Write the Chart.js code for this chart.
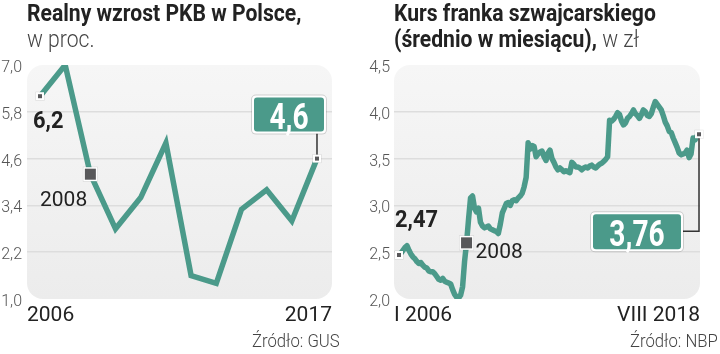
<!DOCTYPE html>
<html><head><meta charset="utf-8">
<script src="https://cdn.jsdelivr.net/npm/chart.js@4/dist/chart.umd.min.js"></script>
<style>
html,body{margin:0;padding:0;background:#fff;width:720px;height:354px;overflow:hidden;font-family:Roboto,"Liberation Sans",sans-serif;color:#222;}
.c{position:absolute;top:0;}
.ttl{position:absolute;top:0;white-space:nowrap;font-size:24px;line-height:26px;transform:scaleX(.88);transform-origin:0 0;}
.ttl b{font-weight:700;color:#222;}
.ttl .l{font-weight:300;color:#444;}
.src{position:absolute;top:329px;white-space:nowrap;font-size:19px;font-weight:300;color:#444;transform:scaleX(.88);transform-origin:100% 0;text-align:right;}
</style></head>
<body>
<canvas id="c1" class="c" width="360" height="354" style="left:0"></canvas>
<canvas id="c2" class="c" width="360" height="354" style="left:360px"></canvas>
<div class="ttl" style="left:27px"><b>Realny wzrost PKB w Polsce,</b><br><span class="l">w proc.</span></div>
<div class="ttl" style="left:394px"><b>Kurs franka szwajcarskiego</b><br><b>(średnio w miesiącu),</b> <span class="l">w zł</span></div>
<div class="src" style="right:380px">Źródło: GUS</div>
<div class="src" style="right:2px">Źródło: NBP</div>
<script>
// ---- data ----
const gdpYears = [2006,2007,2008,2009,2010,2011,2012,2013,2014,2015,2016,2017];
const gdpValues = [6.2,7.0,4.2,2.8,3.6,5.0,1.6,1.4,3.3,3.8,3.0,4.6];
const gdpYTicks = [1.0,2.2,3.4,4.6,5.8,7.0];
const gdpXLabels = ['2006','2017'];

const chfStart = {year:2006, month:1};
const chfValues = [
 2.47,2.49,2.52,2.55,2.57,2.52,2.48,2.45,2.43,2.40,2.38,2.39, // 2006
 2.36,2.34,2.33,2.30,2.29,2.29,2.27,2.24,2.21,2.20,2.22,2.19, // 2007
 2.18,2.17,2.16,2.10,2.05,2.02,2.01,2.04,2.13,2.40,2.60,2.85, // 2008
 3.08,3.10,2.97,2.93,2.97,2.82,2.78,2.76,2.77,2.78,2.75,2.74, // 2009
 2.73,2.72,2.70,2.80,2.92,2.97,3.02,3.03,3.00,3.05,3.06,3.05, // 2010
 3.08,3.10,3.13,3.20,3.30,3.67,3.60,3.64,3.63,3.52,3.55,3.57, // 2011
 3.58,3.52,3.48,3.56,3.59,3.50,3.46,3.41,3.38,3.40,3.38,3.36, // 2012
 3.37,3.36,3.35,3.46,3.44,3.41,3.41,3.40,3.38,3.40,3.41,3.40, // 2013
 3.42,3.43,3.41,3.40,3.42,3.44,3.45,3.47,3.49,3.52,3.91,3.90, // 2014
 3.92,3.95,3.99,3.97,3.90,3.86,3.88,3.93,3.95,3.98,4.02,3.98, // 2015
 3.96,3.93,3.97,4.02,4.00,3.96,3.95,3.98,4.05,4.11,4.08,4.05, // 2016
 4.02,3.96,3.89,3.85,3.79,3.78,3.72,3.67,3.62,3.56,3.54,3.55, // 2017
 3.56,3.59,3.51,3.55,3.72,3.70,3.74,3.76                      // 2018
];
const chfYTicks = [2.0,2.5,3.0,3.5,4.0,4.5];
const chfXLabels = ['I 2006','VIII 2018'];

// ---- styles ----
const TEAL = '#4b9a8a';
const FAM = 'Roboto, "Liberation Sans", sans-serif';

function txt(ctx, s, x, y, o) {
  ctx.save(); ctx.translate(x, y); ctx.scale(o.sx || 1, 1);
  ctx.font = o.font; ctx.fillStyle = o.color || '#222';
  ctx.textAlign = o.align || 'left'; ctx.textBaseline = o.baseline || 'alphabetic';
  ctx.fillText(s, 0, 0); ctx.restore();
}
function rrect(ctx, x, y, w, h, r) {
  ctx.beginPath(); ctx.moveTo(x + r, y); ctx.arcTo(x + w, y, x + w, y + h, r);
  ctx.arcTo(x + w, y + h, x, y + h, r); ctx.arcTo(x, y + h, x, y, r); ctx.arcTo(x, y, x + w, y, r); ctx.closePath();
}
function marker(ctx, x, y, size, border) {
  ctx.save();
  ctx.fillStyle = 'rgba(0,0,0,0.12)';
  ctx.fillRect(x - size/2 - border - 0.5, y - size/2 - border - 0.5, size + 2*border + 1, size + 2*border + 1);
  ctx.fillStyle = '#fff';
  ctx.fillRect(x - size/2 - border, y - size/2 - border, size + 2*border, size + 2*border);
  ctx.fillStyle = '#58585a';
  ctx.fillRect(x - size/2, y - size/2, size, size);
  ctx.restore();
}
function valueBox(ctx, x, y, w, h, label) {
  ctx.save();
  rrect(ctx, x - 1, y - 1, w + 2, h + 2, 5); ctx.fillStyle = 'rgba(0,0,0,0.15)'; ctx.fill();
  rrect(ctx, x, y, w, h, 4); ctx.fillStyle = '#fff'; ctx.fill();
  rrect(ctx, x + 2, y + 2, w - 4, h - 4, 3); ctx.fillStyle = TEAL; ctx.fill();
  ctx.restore();
  txt(ctx, label, x + w/2, y + h - 5, {font: 'bold 37px ' + FAM, color: '#fff', align: 'center', sx: 0.76});
}

const bgPlugin = {
  id: 'bg',
  beforeDraw(chart) {
    const a = chart.chartArea, ctx = chart.ctx;
    ctx.save();
    const g = ctx.createLinearGradient(0, a.top, 0, a.bottom);
    g.addColorStop(0, '#f6f6f6'); g.addColorStop(1, '#ececec');
    rrect(ctx, a.left, a.top, a.right - a.left, a.bottom - a.top, 16);
    ctx.fillStyle = g; ctx.fill(); ctx.restore();
  }
};
function annPlugin(fn) {
  return {id: 'ann', afterDatasetsDraw(chart) { fn(chart); }};
}

function makeOptions(cfg) {
  const n = cfg.yTicks.length;
  return {
    responsive: false, animation: false, devicePixelRatio: 1,
    layout: {padding: {left: 0, right: cfg.padRight, top: 65, bottom: 0}},
    plugins: {legend: {display: false}, tooltip: {enabled: false}},
    scales: {
      x: {
        type: 'linear', min: cfg.xmin, max: cfg.xmax,
        grid: {display: false}, border: {display: false},
        afterBuildTicks: s => { s.ticks = [{value: cfg.xmin}, {value: cfg.xmax}]; },
        afterFit: s => { s.height = 55; },
        ticks: {align: 'inner', maxRotation: 0, autoSkip: false, padding: -4, color: '#222',
          font: {family: FAM, size: 21}, callback: (v, i) => cfg.xLabels[i]}
      },
      y: {
        min: cfg.yTicks[0], max: cfg.yTicks[n - 1],
        afterBuildTicks: s => { s.ticks = cfg.yTicks.map(v => ({value: v})); },
        afterFit: s => { s.width = cfg.yWidth; },
        grid: {drawTicks: false, lineWidth: 1.5,
          color: c => (c.index === 0 || c.index === n - 1) ? 'rgba(0,0,0,0)' : '#dddddd'},
        border: {display: false},
        ticks: {padding: cfg.yPad, labelOffset: 3, color: '#555',
          font: {family: FAM, size: 16, weight: '300'},
          callback: v => v.toFixed(1).replace('.', ',')}
      }
    }
  };
}

// ---- GDP chart ----
function drawGdp(chart) {
  const ctx = chart.ctx, xs = chart.scales.x, ys = chart.scales.y;
  const P = i => ({x: xs.getPixelForValue(gdpYears[i]), y: ys.getPixelForValue(gdpValues[i])});
  const last = gdpYears.length - 1;
  const p0 = P(0), p2 = P(2), pL = P(last);
  marker(ctx, p0.x, p0.y, 4, 2);
  marker(ctx, p2.x, p2.y, 11, 1.5);
  ctx.save(); ctx.strokeStyle = '#333'; ctx.lineWidth = 1.5;
  ctx.beginPath(); ctx.moveTo(pL.x, pL.y); ctx.lineTo(pL.x, pL.y - 25); ctx.stroke(); ctx.restore();
  marker(ctx, pL.x, pL.y, 4, 2);
  valueBox(ctx, pL.x - 65, pL.y - 63, 74, 38, gdpValues[last].toFixed(1).replace('.', ','));
  txt(ctx, gdpValues[0].toFixed(1).replace('.', ','), p0.x - 7, p0.y + 32, {font: 'bold 23px ' + FAM, sx: 0.95});
  txt(ctx, String(gdpYears[2]), 40, p2.y + 32, {font: '21px ' + FAM});
}
new Chart(document.getElementById('c1'), {
  type: 'line',
  data: {datasets: [{data: gdpYears.map((y, i) => ({x: y, y: gdpValues[i]})),
    borderColor: TEAL, borderWidth: 5.5, pointRadius: 0, tension: 0, borderJoinStyle: 'miter', borderCapStyle: 'butt'}]},
  options: makeOptions({xmin: 2005.484, xmax: 2017.596, yTicks: gdpYTicks, xLabels: gdpXLabels, yWidth: 27, yPad: 5, padRight: 28}),
  plugins: [bgPlugin, annPlugin(drawGdp)]
});

// ---- CHF chart ----
const chfIdx2008 = 34;
function drawChf(chart) {
  const ctx = chart.ctx, xs = chart.scales.x, ys = chart.scales.y;
  const P = i => ({x: xs.getPixelForValue(i), y: ys.getPixelForValue(chfValues[i])});
  const last = chfValues.length - 1;
  const p0 = P(0), p8 = P(chfIdx2008), pL = P(last);
  marker(ctx, p0.x, p0.y, 4, 2);
  marker(ctx, p8.x, p8.y, 11, 1.5);
  ctx.save(); ctx.strokeStyle = '#333'; ctx.lineWidth = 1.5;
  ctx.beginPath(); ctx.moveTo(pL.x, pL.y); ctx.lineTo(pL.x, pL.y + 97); ctx.lineTo(pL.x - 16, pL.y + 97); ctx.stroke(); ctx.restore();
  marker(ctx, pL.x, pL.y, 4, 2);
  valueBox(ctx, pL.x - 108, pL.y + 78, 92, 39, chfValues[last].toFixed(2).replace('.', ','));
  txt(ctx, chfValues[0].toFixed(2).replace('.', ','), p0.x - 4, p0.y - 28, {font: 'bold 23px ' + FAM, sx: 0.95});
  txt(ctx, String(chfStart.year + Math.floor(chfIdx2008 / 12)), p8.x + 9, p8.y + 15, {font: '21px ' + FAM});
}
new Chart(document.getElementById('c2'), {
  type: 'line',
  data: {datasets: [{data: chfValues.map((v, i) => ({x: i, y: v})),
    borderColor: TEAL, borderWidth: 5.5, pointRadius: 0, tension: 0, borderJoinStyle: 'round', borderCapStyle: 'round'}]},
  options: makeOptions({xmin: -2.52, xmax: 151.5, yTicks: chfYTicks, xLabels: chfXLabels, yWidth: 34, yPad: 4, padRight: 20}),
  plugins: [bgPlugin, annPlugin(drawChf)]
});
</script>
</body></html>
